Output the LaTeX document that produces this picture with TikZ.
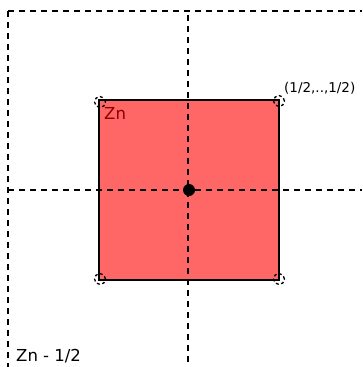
\documentclass[tikz,border=0pt]{standalone}
\usepackage{fontspec}
\setmainfont{DejaVu Sans}
\definecolor{sqfill}{HTML}{FF6666}
\definecolor{znred}{HTML}{8B0000}
\begin{document}
\begin{tikzpicture}[x=1pt,y=-1pt,
  grid/.style={line width=1.7pt, dash pattern=on 6pt off 5pt},
  corner/.style={circle, draw, dash pattern=on 3pt off 2.5pt, line width=1.3pt, minimum size=11pt, inner sep=0pt},
  lbl/.style={inner sep=0pt, anchor=base west}]
\useasboundingbox (0,0) rectangle (362,367);
\coordinate (hl1) at (8,11); \coordinate (hr1) at (362,11);
\coordinate (hl2) at (8,190); \coordinate (hr2) at (362,190);
\coordinate (vt1) at (8,11); \coordinate (vb1) at (8,367);
\coordinate (vt2) at (188,15); \coordinate (vb2) at (188,367);
\node[draw, line width=1.3pt, fill=sqfill, minimum size=180pt, inner sep=0pt] (sq) at (189,190) {};
\draw[grid] (hl1) -- (hr1);
\draw[grid] (hl2) -- (hr2);
\draw[grid] (vt1) -- (vb1);
\draw[grid] (vt2) -- (vb2);
\fill (189,190) circle (6pt);
\node[corner] (c1) at (100,102) {};
\node[corner] (c2) at (279,101) {};
\node[corner] (c3) at (100,279) {};
\node[corner] (c4) at (279,279) {};
\node[lbl, text=znred, font=\fontsize{16.5}{18}\selectfont] (zn) at (104,119) {Zn};
\node[lbl, font=\fontsize{13.5}{15}\selectfont] (half) at (284,92) {(1/2,..,1/2)};
\node[lbl, font=\fontsize{16.5}{18}\selectfont] (znh) at (16,361) {Zn - 1/2};
\end{tikzpicture}
\end{document}
